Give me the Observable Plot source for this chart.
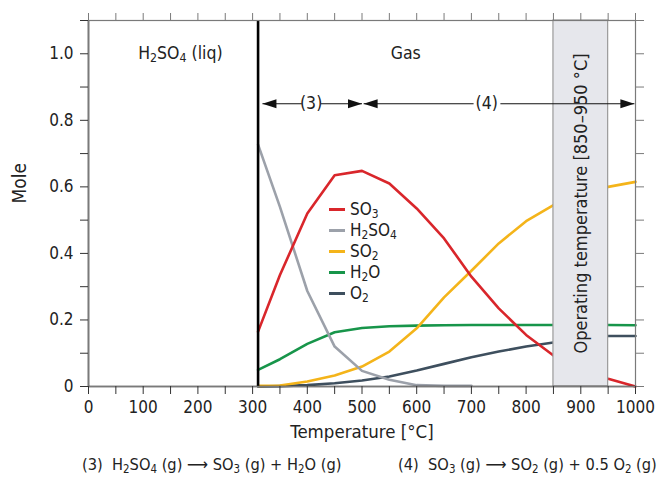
<!DOCTYPE html>
<html><head><meta charset="utf-8">
<script src="https://cdn.jsdelivr.net/npm/d3@7"></script>
<script src="https://cdn.jsdelivr.net/npm/@observablehq/plot@0.6"></script>
<style>
body{margin:0;background:#fff;}
#wrap{position:relative;width:662px;height:477px;font-family:"Liberation Sans Narrow","Arial Narrow","DejaVu Sans Condensed","Liberation Sans",sans-serif;color:#222;}
#legend{position:absolute;left:329px;top:199px;font-size:17px;line-height:21px;}
#legend .row{display:flex;align-items:center;height:21px;}
#legend .sw{width:16px;height:3px;margin-right:5px;}
sub{font-size:0.7em;vertical-align:-0.25em;line-height:0;}
#caption{position:absolute;top:452px;left:0;width:662px;height:25px;font-size:16.3px;}
#caption span{position:absolute;top:3px;white-space:nowrap;}
</style></head><body><div id="wrap"></div>
<script>
// ---- data ----
const temps = [310,350,400,450,500,550,600,650,700,750,800,850,900,950,1000];
const so3   = [0.165,0.335,0.52,0.635,0.648,0.61,0.535,0.445,0.33,0.235,0.155,0.093,0.05,0.023,0.0];
const h2so4 = [0.727,0.54,0.287,0.12,0.047,0.02,0.004,0.002,0.002,null,null,null,null,null,null];
const so2   = [0.002,0.003,0.015,0.033,0.06,0.105,0.175,0.268,0.348,0.43,0.497,0.545,0.58,0.6,0.615];
const h2o   = [0.05,0.082,0.128,0.163,0.176,0.181,0.183,0.184,0.185,0.185,0.185,0.185,0.185,0.185,0.184];
const o2    = [0.0,0.001,0.004,0.01,0.018,0.03,0.048,0.068,0.088,0.105,0.12,0.132,0.143,0.152,0.152];
const seriesNames  = ["SO_3","H_2SO_4","SO_2","H_2O","O_2"];
const seriesColors = ["#d9262b","#9ca1aa","#f4b41a","#17954a","#3e4f5e"];
const xTicks = d3.range(0, 21).map(i => i * 50);
const yTicks = d3.range(0, 12).map(i => i / 10);
const phaseBoundary = 310;
const bandRange = [850, 950];
const regionLabels = [{x:168, y:1.0, t:"H_2SO_4 (liq)"}, {x:580, y:1.0, t:"Gas"}];
const arrowY = 0.85;
const arrowSegs = [{x1:390,x2:318},{x1:425,x2:500},{x1:704,x2:503},{x1:753,x2:998}];
const arrowLabels = [{x:407, t:"(3)"},{x:728, t:"(4)"}];
const bandLabel = {x:900, y:0.55, t:"Operating temperature [850–950 °C]"};
const caption3 = "(3)&nbsp; H<sub>2</sub>SO<sub>4</sub> (g) ⟶ SO<sub>3</sub> (g) + H<sub>2</sub>O (g)";
const caption4 = "(4)&nbsp; SO<sub>3</sub> (g) ⟶ SO<sub>2</sub> (g) + 0.5 O<sub>2</sub> (g)";

const allSeries = [so3, h2so4, so2, h2o, o2];
const rows = allSeries.map((vals, k) => temps.map((T, i) => ({T, v: vals[i], s: seriesNames[k]})));

const headRight = {draw(ctx){ ctx.moveTo(0,0); ctx.lineTo(-14,-4.5); ctx.lineTo(-14,4.5); ctx.closePath(); }};
const heads = arrowSegs.map(d => ({x: d.x2, rot: d.x2 > d.x1 ? 0 : 180}));

const font = '"Liberation Sans Narrow","Arial Narrow","DejaVu Sans Condensed","Liberation Sans",sans-serif';
const drawOrder = [4,3,2,1,0];

const chart = Plot.plot({
  width: 662, height: 452,
  marginLeft: 88, marginRight: 27, marginTop: 20, marginBottom: 66,
  x: {domain: [0, 1000]},
  y: {domain: [0, 1.1]},
  style: {fontFamily: font, fontSize: "17px", color: "#222", background: "white"},
  marks: [
    ...drawOrder.map(k => Plot.line(rows[k], {x: "T", y: "v", stroke: seriesColors[k], strokeWidth: 2.6, curve: "linear"})),
    Plot.rect([bandRange], {x1: d => d[0], x2: d => d[1], y1: 0, y2: 1.1, fill: "#e6e7ec", stroke: "#9a9a9a", strokeWidth: 1.2}),
    Plot.ruleX([phaseBoundary], {y1: 0, y2: 1.1, stroke: "black", strokeWidth: 2.6}),
    Plot.link(arrowSegs, {x1: "x1", x2: "x2", y1: arrowY, y2: arrowY, stroke: "#111", strokeWidth: 1.1}),
    Plot.dot(heads, {x: "x", y: arrowY, symbol: headRight, rotate: "rot", fill: "#111", stroke: null, r: 5}),
    Plot.text(arrowLabels, {x: "x", y: arrowY, text: "t", fontSize: 17.5}),
    Plot.text(regionLabels, {x: "x", y: "y", text: "t", fontSize: 17.5}),
    Plot.text([bandLabel], {x: "x", y: "y", text: "t", rotate: -90, fontSize: 18}),
    Plot.ruleX([0], {stroke: "#333", strokeWidth: 1.6}),
    Plot.ruleY([0], {stroke: "#333", strokeWidth: 1.6}),
    Plot.frame({stroke: "#7a7a7a", strokeWidth: 1.2}),
    Plot.axisX({anchor: "bottom", ticks: xTicks, tickSize: 8, tickPadding: 6, stroke: "#333",
      tickFormat: d => d % 100 === 0 ? String(d) : "", label: null}),
    Plot.axisX({anchor: "top", ticks: xTicks, tickSize: 8, stroke: "#7a7a7a", tickFormat: () => "", label: null}),
    Plot.axisY({anchor: "left", ticks: yTicks, tickSize: 8, tickPadding: 7, stroke: "#333",
      tickFormat: d => { const i = Math.round(d * 10); return i % 2 ? "" : (i === 0 ? "0" : d.toFixed(1)); }, label: null}),
    Plot.axisY({anchor: "right", ticks: yTicks, tickSize: 8, stroke: "#7a7a7a", tickFormat: () => "", label: null}),
    Plot.text(["Temperature [°C]"], {frameAnchor: "bottom", dy: 51, fontSize: 18.5}),
    Plot.text(["Mole"], {frameAnchor: "left", dx: -69, rotate: -90, fontSize: 19})
  ]
});

// subscripts in SVG text: "_d" -> subscript tspan
chart.querySelectorAll("text").forEach(el => {
  const s = el.textContent;
  if (!s.includes("_")) return;
  el.textContent = "";
  s.split(/(_\d)/).forEach(part => {
    if (!part) return;
    const ts = document.createElementNS("http://www.w3.org/2000/svg", "tspan");
    if (part[0] === "_") {
      ts.textContent = part.slice(1);
      ts.setAttribute("baseline-shift", "-0.28em");
      ts.setAttribute("font-size", "0.7em");
    } else ts.textContent = part;
    el.appendChild(ts);
  });
});

const wrap = document.getElementById("wrap");
wrap.appendChild(chart);

const legend = document.createElement("div");
legend.id = "legend";
seriesNames.forEach((n, k) => {
  const row = document.createElement("div");
  row.className = "row";
  row.innerHTML = `<div class="sw" style="background:${seriesColors[k]}"></div><span>${n.replace(/_(\d)/g, "<sub>$1</sub>")}</span>`;
  legend.appendChild(row);
});
wrap.appendChild(legend);

const cap = document.createElement("div");
cap.id = "caption";
cap.innerHTML = `<span style="left:82px">${caption3}</span><span style="left:398px">${caption4}</span>`;
wrap.appendChild(cap);
</script></body></html>
